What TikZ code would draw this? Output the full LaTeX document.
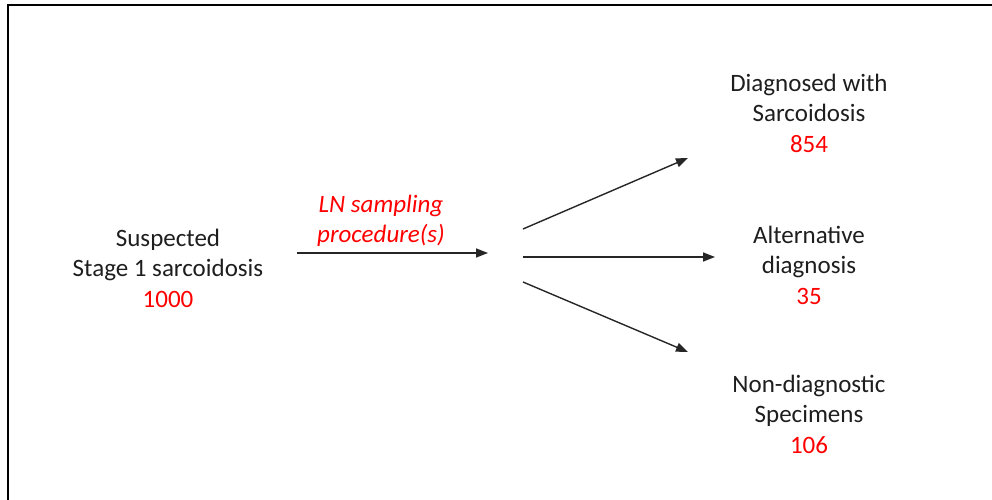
\documentclass[tikz,border=0pt]{standalone}
\usepackage{fontspec}
\setmainfont{Carlito}
\usetikzlibrary{arrows.meta}
\definecolor{txt}{HTML}{1E1E1E}
\tikzset{
  lbl/.style={align=center, inner sep=0pt, text=txt,
    font=\fontsize{25bp}{30.5bp}\selectfont},
  proc/.style={lbl, text=red, font=\fontsize{25bp}{30.5bp}\selectfont\itshape},
  flow/.style={line width=1.4bp, draw=black!85,
    -{Triangle[length=12bp,width=9bp]}},
  frame/.style={line width=2.2bp, draw=black}
}
\begin{document}
\begin{tikzpicture}[x=1bp,y=-1bp]
  \useasboundingbox (0,0) rectangle (992,500);
  % open frame: left and top edges only
  \draw[frame] (8,500) -- (8,5) -- (992,5);

  % source group and procedure label
  \node[lbl] (src) at (168,268) {Suspected\\Stage 1 sarcoidosis\\{\color{red}1000}};
  \node[proc] (proc) at (381,221) {LN sampling\\procedure(s)};

  % outcome groups
  \node[lbl] (sarc) at (809,113) {Diagnosed with\\Sarcoidosis\\{\color{red}854}};
  \node[lbl] (alt)  at (809,265) {Alternative\\diagnosis\\{\color{red}35}};
  \node[lbl] (nond) at (809,414) {Non-diagnostic\\Specimens\\{\color{red}106}};

  % connector end points
  \coordinate (m0) at (297,253);
  \coordinate (m1) at (488,253);
  \coordinate (u0) at (523,229);
  \coordinate (u1) at (688,158);
  \coordinate (c0) at (523,257);
  \coordinate (c1) at (715,257);
  \coordinate (d0) at (523,282);
  \coordinate (d1) at (688,352);

  \draw[flow] (m0) -- (m1);
  \draw[flow] (u0) -- (u1);
  \draw[flow] (c0) -- (c1);
  \draw[flow] (d0) -- (d1);
\end{tikzpicture}
\end{document}
